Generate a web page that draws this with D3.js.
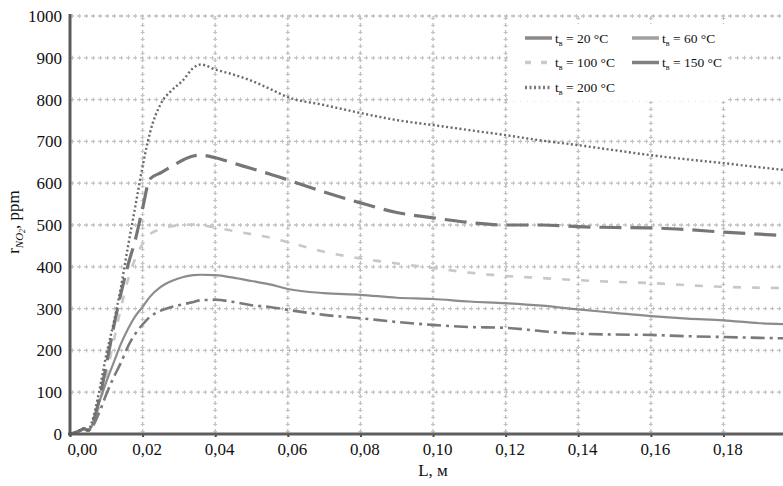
<!DOCTYPE html>
<html><head><meta charset="utf-8">
<script src="https://cdn.jsdelivr.net/npm/d3@7"></script>
<style>body{margin:0;background:#fff}svg{display:block}
.serif{font-family:"Liberation Serif","Times New Roman",Times,serif}</style>
</head><body><svg id="c" width="783" height="486"></svg>
<script>
const L = [0, 0.002, 0.004, 0.005, 0.006, 0.008, 0.010, 0.012, 0.014, 0.016, 0.018, 0.020, 0.022, 0.025, 0.028, 0.031, 0.034, 0.036, 0.040, 0.045, 0.050, 0.055, 0.060, 0.070, 0.080, 0.090, 0.100, 0.110, 0.120, 0.130, 0.140, 0.150, 0.160, 0.170, 0.180, 0.190, 0.1964];
const t20  = [0, 5, 12, 8, 15, 50, 95, 135, 170, 210, 240, 262, 280, 295, 304, 310, 316, 320, 321, 316, 308, 304, 297, 285, 277, 268, 261, 256, 254, 246, 240, 238, 237, 234, 232, 230, 229];
const t60  = [0, 6, 14, 8, 20, 75, 125, 170, 215, 252, 282, 304, 328, 352, 366, 375, 380, 381, 380, 374, 366, 358, 347, 337, 333, 326, 323, 317, 313, 307, 298, 290, 282, 276, 272, 265, 263];
const t100 = [0, 5, 12, 8, 18, 65, 140, 220, 300, 370, 420, 455, 478, 490, 497, 500, 501, 500, 494, 486, 478, 470, 459, 436, 420, 408, 397, 386, 378, 373, 368, 364, 361, 356, 352, 350, 349];
const t150 = [0, 5, 12, 8, 22, 80, 165, 255, 335, 405, 465, 540, 610, 625, 640, 655, 665, 667, 661, 648, 635, 622, 608, 579, 553, 530, 517, 506, 500, 500, 496, 494, 493, 489, 483, 478, 475];
const t200 = [0, 6, 14, 10, 28, 100, 190, 265, 350, 450, 545, 640, 720, 790, 822, 845, 876, 884, 872, 860, 845, 826, 806, 787, 768, 751, 739, 727, 715, 702, 691, 679, 667, 657, 648, 638, 632];
const seriesNames = ["20", "60", "100", "150", "200"];
const xTicks = [0, 0.02, 0.04, 0.06, 0.08, 0.10, 0.12, 0.14, 0.16, 0.18];
const yTicks = [0, 100, 200, 300, 400, 500, 600, 700, 800, 900, 1000];

const styles = {
  "20":  {stroke: "#7a7a7a", width: 2.6, dash: "14,5,3,5", legDash: null, legStroke: "#8a8a8a"},
  "60":  {stroke: "#8c8c8c", width: 2.2, dash: null, legDash: null, legStroke: "#a0a0a0"},
  "100": {stroke: "#c8c8c8", width: 2.6, dash: "8,11", legDash: "6,10", legStroke: "#cacaca"},
  "150": {stroke: "#767676", width: 3.2, dash: "22,9", legDash: null, legStroke: "#808080"},
  "200": {stroke: "#6a6a6a", width: 2.4, dash: "2,2.5", legDash: "2,2.5", legStroke: "#7a7a7a"}
};
const data = {"20": t20, "60": t60, "100": t100, "150": t150, "200": t200};

const svg = d3.select("#c");
const x = d3.scaleLinear().domain([0, 0.1964]).range([70, 783]);
const y = d3.scaleLinear().domain([0, 1000]).range([434, 16]);
const fmt = d => d3.format(".2f")(d).replace(".", ",");

svg.append("defs").append("clipPath").attr("id","clip")
  .append("rect").attr("x",70).attr("y",0).attr("width",713).attr("height",436);

// grid
const grid = svg.append("g");
yTicks.filter(v => v > 0).forEach(v => {
  grid.append("line").attr("x1",70).attr("x2",783).attr("y1",y(v)).attr("y2",y(v))
    .attr("stroke","#bdbdbd").attr("stroke-width",1.3).attr("stroke-dasharray","4,3");
  grid.append("line").attr("x1",72).attr("x2",783).attr("y1",y(v)).attr("y2",y(v))
    .attr("stroke","#c4c4c4").attr("stroke-width",4).attr("stroke-dasharray","1,6");
});
xTicks.filter(v => v > 0).forEach(v => {
  grid.append("line").attr("y1",16).attr("y2",434).attr("x1",x(v)).attr("x2",x(v))
    .attr("stroke","#bdbdbd").attr("stroke-width",1.3).attr("stroke-dasharray","4,3");
  grid.append("line").attr("y1",18).attr("y2",434).attr("x1",x(v)).attr("x2",x(v))
    .attr("stroke","#c4c4c4").attr("stroke-width",4).attr("stroke-dasharray","1,6");
});

// lines
const line = d3.line().x((d,i) => x(L[i])).y(d => y(d)).curve(d3.curveMonotoneX);
const lg = svg.append("g").attr("clip-path","url(#clip)");
["100","60","20","150","200"].forEach(k => {
  const s = styles[k];
  lg.append("path").datum(data[k]).attr("d", line).attr("fill","none")
    .attr("stroke", s.stroke).attr("stroke-width", s.width)
    .attr("stroke-dasharray", s.dash).attr("stroke-linejoin","round");
});

// axes
const xAxis = svg.append("g").attr("transform","translate(0,434)")
  .call(d3.axisBottom(x).tickValues(xTicks).tickFormat(fmt).tickSize(3).tickPadding(6));
xAxis.attr("font-family", null).attr("font-size", null).attr("class","serif");
xAxis.select(".domain").remove();
xAxis.selectAll(".tick line").attr("stroke","#444").attr("stroke-width",2);
xAxis.selectAll(".tick text").attr("class","serif").style("font-size","17px")
  .attr("fill","#111").attr("dx",4);
xAxis.selectAll(".tick text").filter(d => d === 0).attr("text-anchor","start").attr("dx",-3);
svg.append("line").attr("x1",68).attr("x2",783).attr("y1",434).attr("y2",434)
  .attr("stroke","#5e5e5e").attr("stroke-width",3);

const yAxis = svg.append("g").attr("transform","translate(70,0)")
  .call(d3.axisLeft(y).tickValues(yTicks).tickFormat(d3.format("d")).tickSize(0).tickPadding(8));
yAxis.attr("font-family", null).attr("font-size", null).attr("class","serif");
yAxis.select(".domain").remove();
yAxis.selectAll(".tick text").attr("class","serif").style("font-size","17px")
  .attr("fill","#111");
svg.append("line").attr("x1",70).attr("x2",70).attr("y1",14).attr("y2",435.5)
  .attr("stroke","#5a5a5a").attr("stroke-width",3);

// axis titles
svg.append("text").attr("x",433).attr("y",476).attr("text-anchor","middle").attr("class","serif")
  .style("font-size","17px").attr("fill","#111").text("L, м");
const yt = svg.append("text").attr("transform","translate(19,222) rotate(-90)").attr("text-anchor","middle")
  .attr("class","serif").style("font-size","17px").attr("fill","#111");
yt.append("tspan").text("r");
yt.append("tspan").style("font-size","11px").attr("font-style","italic").attr("dy",4).text("NO");
yt.append("tspan").style("font-size","8px").attr("font-style","italic").attr("dy",2).text("2");
yt.append("tspan").attr("dy",-6).text(", ppm");

// legend
const leg = svg.append("g");
leg.append("rect").attr("x",510).attr("y",24).attr("width",216).attr("height",77).attr("fill","#fff");
const legPos = [
  {k:"20", x:525, y:38}, {k:"60", x:632, y:38},
  {k:"100", x:525, y:62.5}, {k:"150", x:632, y:62.5},
  {k:"200", x:525, y:87.5}
];
legPos.forEach(p => {
  const s = styles[p.k];
  leg.append("line").attr("x1",p.x).attr("x2",p.x+27).attr("y1",p.y).attr("y2",p.y)
    .attr("stroke", s.legStroke).attr("stroke-width", 3.5).attr("stroke-dasharray", s.legDash);
  const t = leg.append("text").attr("x",p.x+30).attr("y",p.y+4.5)
    .attr("class","serif").style("font-size","13.5px").attr("fill","#111");
  t.append("tspan").text("t");
  t.append("tspan").style("font-size","8px").attr("dy",3).text("в");
  t.append("tspan").attr("dy",-3).text(" = " + p.k + " °C");
});
</script></body></html>
